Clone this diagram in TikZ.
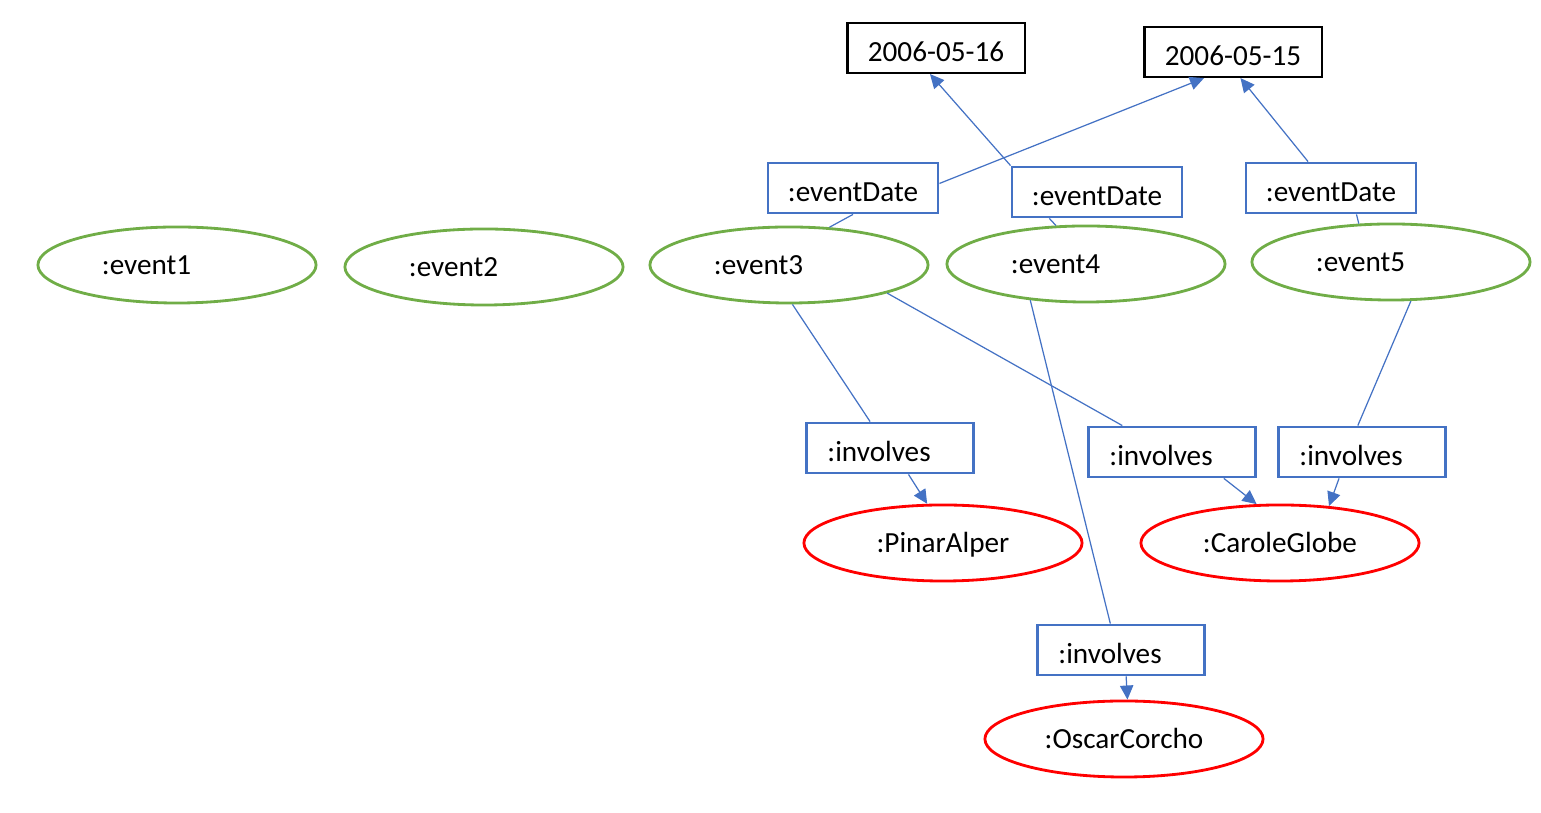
\documentclass[tikz,border=0pt]{standalone}
\usepackage{fontspec}
\setmainfont{Carlito}
\usetikzlibrary{arrows.meta,shapes.geometric}
\definecolor{evgreen}{RGB}{112,173,71}
\definecolor{propblue}{RGB}{68,114,196}

\begin{document}
\begin{tikzpicture}[x=0.01cm,y=-0.01cm,font=\fontsize{8.3}{10}\selectfont,
  ev/.style={ellipse,draw=evgreen,line width=0.8pt,minimum width=2.78cm,minimum height=0.76cm,inner sep=0pt,text width=1.5cm,align=left},
  person/.style={ellipse,draw=red,line width=0.8pt,minimum width=2.78cm,minimum height=0.76cm,inner sep=0pt,text height=6.2pt,text depth=1pt},
  prop/.style={rectangle,draw=propblue,line width=0.8pt,minimum width=1.7cm,minimum height=0.5cm,inner sep=0pt,text height=7.5pt,text depth=0pt},
  inv/.style={prop,minimum width=1.67cm,text width=1.25cm,align=left},
  lit/.style={rectangle,draw=black,line width=0.6pt,minimum width=1.77cm,minimum height=0.5cm,inner sep=0pt,text height=7.5pt,text depth=0pt},
  link/.style={draw=propblue,line width=0.35pt},
  arr/.style={link,-{Triangle[length=4pt,width=3.8pt]}}]
\useasboundingbox (0,0) rectangle (1541,813);

\node[lit] (d16) at (936,48) {2006-05-16};
\node[lit] (d15) at (1233,52) {2006-05-15};

\node[prop] (ed3) at (853,188) {:eventDate};
\node[prop] (ed4) at (1097,192) {:eventDate};
\node[prop] (ed5) at (1331,188) {:eventDate};

\node[ev] (e1) at (177,265) {:event1};
\node[ev] (e2) at (484,267) {:event2};
\node[ev] (e3) at (789,265) {:event3};
\node[ev] (e4) at (1086,264) {:event4};
\node[ev] (e5) at (1391,262) {:event5};

\node[inv] (i3a) at (890,448) {:involves};
\node[inv] (i3b) at (1172,452) {:involves};
\node[inv] (i5) at (1362,452) {:involves};
\node[inv] (i4) at (1121,650) {:involves};

\node[person] (pa) at (943,543) {:PinarAlper};
\node[person] (cg) at (1280,543) {:CaroleGlobe};
\node[person] (oc) at (1124,739) {:OscarCorcho};

\draw[link] (e3.43) -- (ed3.south);
\draw[arr] (ed3.3) -- (d15.222);
\draw[link] (e4.128) -- (ed4.209);
\draw[arr] (ed4.north west) -- (d16.257);
\draw[link] (e5.130) -- (ed5.-46);
\draw[arr] (ed5.131) -- (d15.286);

\draw[link] (e3.-85) -- (i3a.127);
\draw[arr] (i3a.-55) -- (pa.112);
\draw[link] (e3.-16) -- (i3b.152);
\draw[arr] (i3b.-27) -- (cg.121);
\draw[link] (e5.-63) -- (i5.99);
\draw[arr] (i5.229) -- (cg.37);
\draw[link] (e4.213) -- (i4.112);
\draw[arr] (i4.-79) -- (oc.85);
\end{tikzpicture}
\end{document}
